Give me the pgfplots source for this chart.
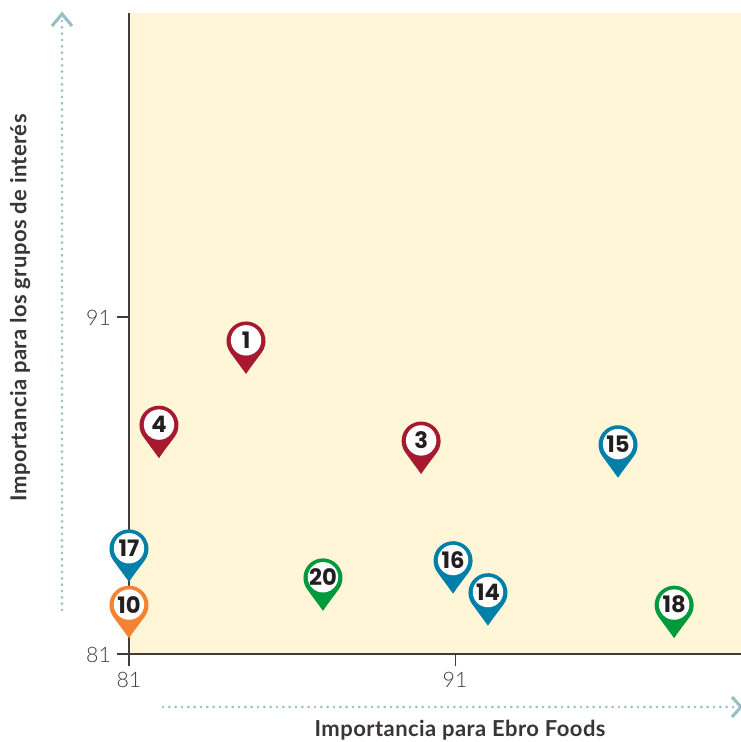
\documentclass[border=0pt]{standalone}
\usepackage{pgfplots}
\pgfplotsset{compat=1.18}
\usepackage{fontspec}
\setmainfont{Lato}
\newfontfamily\numfont{Poppins}
\newfontfamily\lightf{Lato Light}
\definecolor{bgc}{HTML}{FFF5D7}
\definecolor{axc}{HTML}{3F3C3A}
\definecolor{arrc}{HTML}{97BEC6}
\definecolor{pred}{HTML}{A6192E}
\definecolor{pblue}{HTML}{007FA8}
\definecolor{pgreen}{HTML}{009A3C}
\definecolor{porange}{HTML}{F58233}
\definecolor{txt}{HTML}{231F20}
\pgfdeclareplotmark{pin}{%
  \pgfpathmoveto{\pgfpoint{0pt}{0pt}}%
  \pgfpathcurveto{\pgfpoint{4pt}{6pt}}{\pgfpoint{8pt}{11pt}}{\pgfpoint{11.79pt}{16.11pt}}%
  \pgfpatharc{-36.2}{216.2}{14.625pt}%
  \pgfpathclose
  \pgfusepathqfill
  \begin{pgfscope}%
    \pgfsetfillcolor{white}%
    \pgfpathcircle{\pgfpoint{0pt}{25.2pt}}{11.4pt}%
    \pgfusepathqfill
  \end{pgfscope}%
}
\pgfplotsset{
  pinplot/.style={
    only marks, mark=pin, mark options={fill=#1,draw=none,solid},
    point meta=explicit symbolic,
    nodes near coords,
    every node near coord/.append style={anchor=center,yshift=25.2pt,inner sep=0pt,
      font=\fontsize{17}{17}\numfont\bfseries,text=txt},
  }
}
\begin{document}
\begin{tikzpicture}
\path[use as bounding box] (-96.75pt,-66pt) rectangle (459pt,490.5pt);
\begin{axis}[
  at={(0,0)}, anchor=origin,
  scale only axis, width=459pt, height=480.75pt,
  xmin=81, xmax=99.77, ymin=81, ymax=100.02,
  clip=false,
  axis x line*=bottom, axis y line*=left,
  axis line style={axc,line width=1.2pt,-},
  axis background/.style={fill=bgc},
  xtick={81,91}, ytick={81,91},
  tick style={axc,line width=0.8pt},
  tick align=outside, major tick length=9pt,
  /pgf/number format/assume math mode=true,
  tick label style={font=\fontsize{16}{16}\lightf,text=axc},
  xticklabel style={yshift=-1pt},
  yticklabel style={xshift=-1pt,yshift=-1pt},
  xlabel={Importancia para Ebro Foods},
  ylabel={Importancia para los grupos de interés},
  every axis x label/.style={at={(axis description cs:0.541,-0.1186)},anchor=center,
    font=\fontsize{16.5}{16}\selectfont\bfseries\addfontfeature{LetterSpace=2},text=txt!90!white},
  every axis y label/.style={at={(axis description cs:-0.178,0.54)},anchor=center,rotate=90,
    font=\fontsize{16.5}{16}\selectfont\bfseries\addfontfeature{LetterSpace=2},text=txt!90!white},
]
\addplot[pinplot=pred] table[meta=n] {
x y n
84.59 89.31 1
81.92 86.81 4
89.96 86.34 3
};
\addplot[pinplot=pblue] table[meta=n] {
x y n
96.00 86.23 15
81.00 83.14 17
90.94 82.79 16
92.01 81.84 14
};
\addplot[pinplot=pgreen] table[meta=n] {
x y n
86.95 82.28 20
97.72 81.47 18
};
\addplot[pinplot=porange] table[meta=n] {
x y n
81.00 81.47 10
};
\end{axis}
\draw[arrc,line width=2.2pt,line cap=round,dash pattern=on 0pt off 4.75pt] (25.5pt,-39.75pt) -- (456pt,-39.75pt);
\draw[arrc,line width=2.2pt,line cap=round,dash pattern=on 0pt off 4.75pt] (-50.25pt,33pt) -- (-50.25pt,478pt);
\draw[arrc,line width=2.3pt] (452.25pt,-32.25pt) -- (459pt,-39.75pt) -- (452.25pt,-47.25pt);
\draw[arrc,line width=2.3pt] (-57.75pt,471pt) -- (-50.25pt,480pt) -- (-42.75pt,471pt);
\end{tikzpicture}
\end{document}
